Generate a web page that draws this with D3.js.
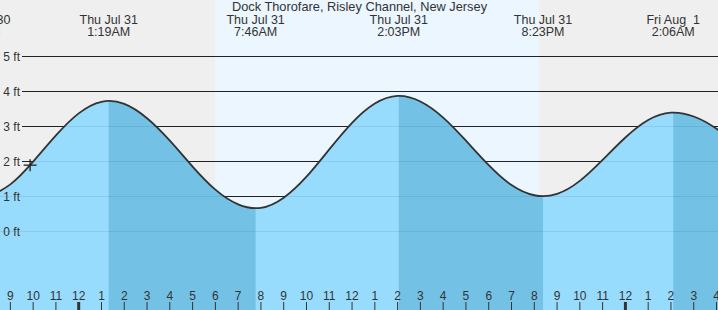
<!DOCTYPE html>
<html lang="en">
<head>
<meta charset="utf-8">
<title>Dock Thorofare tide</title>
<script src="https://cdn.jsdelivr.net/npm/d3@7"></script>
<style>
  html, body { margin: 0; padding: 0; background: #efefef; }
  svg { display: block; font-family: "Liberation Sans", Arial, sans-serif; }
  text { white-space: pre; }
</style>
</head>
<body>
<div id="bod"></div>
<script>
// hourly heights (ft), starting Wed Jul 30 2025 8PM
const firstHour = new Date(2025, 6, 30, 20);
const hourlyFt = [0.98, 1.34, 1.99, 2.74, 3.37, 3.70, 3.64, 3.23, 2.59, 1.85, 1.19, 0.77,
  0.67, 0.96, 1.56, 2.34, 3.10, 3.65, 3.87, 3.71, 3.25, 2.59, 1.89, 1.32,
  1.03, 1.07, 1.44, 2.04, 2.68, 3.18, 3.39, 3.28, 2.93, 2.41];

// high / low events
const eventTimes = [new Date(2025, 6, 30, 19, 38), new Date(2025, 6, 31, 1, 19), new Date(2025, 6, 31, 7, 46),
  new Date(2025, 6, 31, 14, 3), new Date(2025, 6, 31, 20, 23), new Date(2025, 7, 1, 2, 6)];
const eventFt = [0.95, 3.70, 0.66, 3.88, 1.01, 3.40];
const eventType = ["L", "H", "L", "H", "L", "H"];

const sunrise = new Date(2025, 6, 31, 5, 59);
const sunset = new Date(2025, 6, 31, 20, 12);
const nowTime = new Date(2025, 6, 30, 21, 52);
const nowFt = 1.89;

const title = "Dock Thorofare, Risley Channel, New Jersey";
const ftTicks = [0, 1, 2, 3, 4, 5];

const w = 718, h = 310;

const x = d3.scaleTime()
  .domain([new Date(2025, 6, 31, 0), new Date(2025, 7, 1, 0)])
  .range([78.7, 625.4]);
const y = d3.scaleLinear().domain([0, 5]).range([231.3, 56.3]);

const pts = hourlyFt.map((v, i) => ({t: d3.timeHour.offset(firstHour, i), v: v}));

const svg = d3.select("#bod").append("svg")
  .attr("width", w).attr("height", h);

// background: night gray, day light blue
svg.append("rect").attr("width", w).attr("height", h).attr("fill", "#efefef");
svg.append("rect")
  .attr("x", x(sunrise)).attr("y", 0)
  .attr("width", x(sunset) - x(sunrise)).attr("height", h)
  .attr("fill", "#ebf6ff");

// gridlines (above water)
svg.append("g").selectAll("line").data(ftTicks).join("line")
  .attr("x1", 22).attr("x2", w)
  .attr("y1", d => y(d)).attr("y2", d => y(d))
  .attr("stroke", "#222").attr("stroke-width", 1).attr("shape-rendering", "crispEdges");

const area = d3.area()
  .x(d => x(d.t)).y0(h).y1(d => y(d.v))
  .curve(d3.curveNatural);
const line = d3.line()
  .x(d => x(d.t)).y(d => y(d.v))
  .curve(d3.curveNatural);

svg.append("defs").append("clipPath").attr("id", "water")
  .append("path").datum(pts).attr("d", area);

svg.append("path").datum(pts).attr("d", area).attr("fill", "#97dcfd");

// falling tide bands, high -> next low
const bands = [];
eventType.forEach((k, i) => {
  if (k === "H") {
    const end = i + 1 < eventTimes.length ? x(eventTimes[i + 1]) : w + 5;
    bands.push([x(eventTimes[i]), end]);
  }
});
const wg = svg.append("g").attr("clip-path", "url(#water)");
wg.selectAll("rect").data(bands).join("rect")
  .attr("x", d => d[0]).attr("y", 0)
  .attr("width", d => d[1] - d[0]).attr("height", h)
  .attr("fill", "#73c2e6");
wg.selectAll("line").data(ftTicks).join("line")
  .attr("x1", 0).attr("x2", w)
  .attr("y1", d => y(d)).attr("y2", d => y(d))
  .attr("stroke", "rgba(0,60,110,0.10)").attr("stroke-width", 1).attr("shape-rendering", "crispEdges");

svg.append("path").datum(pts).attr("d", line)
  .attr("fill", "none").attr("stroke", "#333").attr("stroke-width", 1.8);

// current time marker
const mx = x(nowTime), my = y(nowFt);
svg.append("line").attr("x1", mx - 6.5).attr("x2", mx + 6.5).attr("y1", my).attr("y2", my)
  .attr("stroke", "#222").attr("stroke-width", 1.3);
svg.append("line").attr("x1", mx).attr("x2", mx).attr("y1", my - 6).attr("y2", my + 6)
  .attr("stroke", "#222").attr("stroke-width", 1.3);

// y labels
svg.append("g").selectAll("text").data(ftTicks).join("text")
  .attr("x", 20).attr("y", d => y(d) + 4.5)
  .attr("text-anchor", "end").attr("font-size", 12).attr("fill", "#333")
  .text(d => d + " ft");

// hour axis at bottom
const hours = d3.timeHour.range(x.invert(-10), x.invert(w + 10));
const hg = svg.append("g");
hg.selectAll("line").data(hours).join("line")
  .attr("x1", d => x(d)).attr("x2", d => x(d))
  .attr("y1", 302).attr("y2", h)
  .attr("stroke", "#333")
  .attr("stroke-width", d => (d.getHours() === 0 ? 3 : 1));
hg.selectAll("text").data(hours).join("text")
  .attr("x", d => x(d)).attr("y", 299.5)
  .attr("text-anchor", "middle").attr("font-size", 12).attr("fill", "#333")
  .text(d3.timeFormat("%-I"));

// event labels along the top
const dayFmt = d3.timeFormat("%a %b %e");
const timeFmt = d3.timeFormat("%-I:%M%p");
const eg = svg.append("g").attr("font-size", 12.5).attr("fill", "#333").attr("text-anchor", "middle");
eg.selectAll(".d").data(eventTimes).join("text").attr("class", "d")
  .attr("x", d => x(d)).attr("y", 24).text(dayFmt);
eg.selectAll(".t").data(eventTimes).join("text").attr("class", "t")
  .attr("x", d => x(d)).attr("y", 36).text(timeFmt);

svg.append("text")
  .attr("x", 359.5).attr("y", 11)
  .attr("text-anchor", "middle").attr("font-size", 12.8).attr("fill", "#333")
  .text(title);
</script>
</body>
</html>
